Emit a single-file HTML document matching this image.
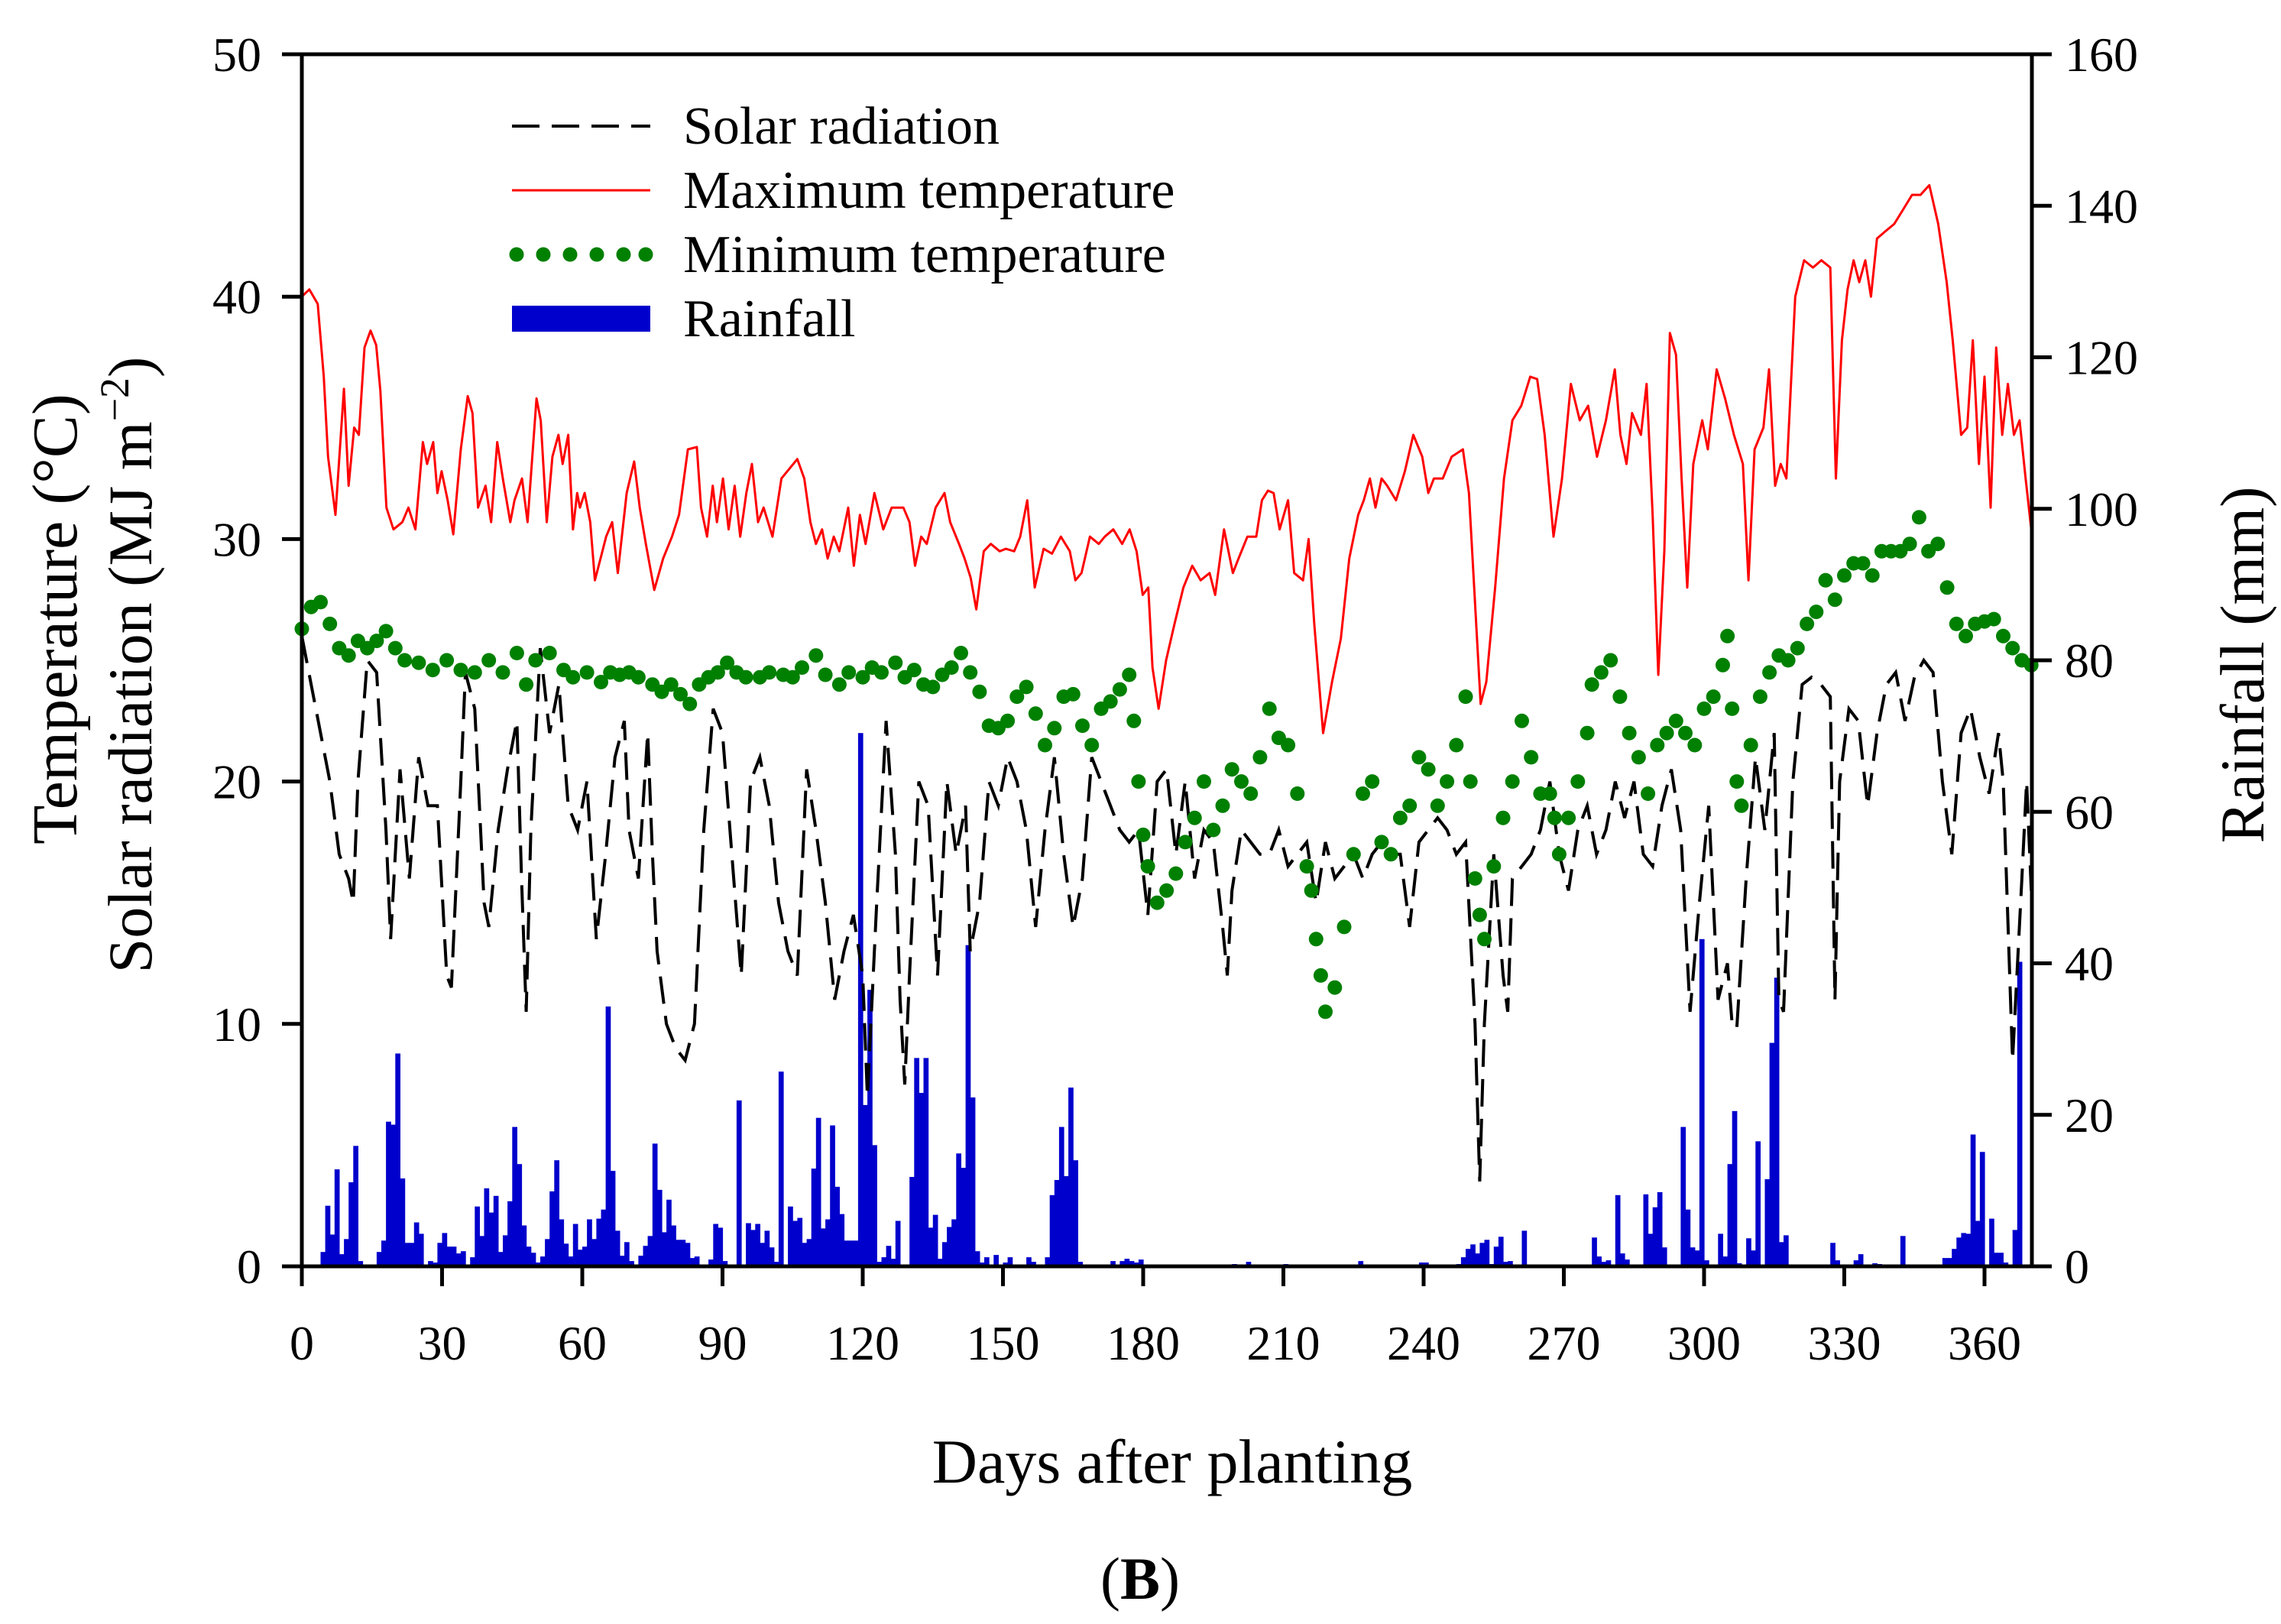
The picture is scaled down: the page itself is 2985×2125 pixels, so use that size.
<!DOCTYPE html>
<html><head><meta charset="utf-8">
<style>
html,body{margin:0;padding:0;background:#fff;}
svg{display:block;}
text{font-family:"Liberation Serif",serif;fill:#000;}
</style></head>
<body>
<svg id="chart" width="2985" height="2125" viewBox="0 0 2985 2125" xmlns="http://www.w3.org/2000/svg">
<g id="rain-layer"></g>
<g id="solar-layer"></g>
<g id="max-layer"></g>
<g id="min-layer"></g>
<g id="axes-layer"></g>
<g>
 <line x1="670" y1="165" x2="851" y2="165" stroke="#000" stroke-width="4" stroke-dasharray="36,16"/>
 <text x="894" y="188" font-size="70">Solar radiation</text>
 <line x1="670" y1="249" x2="851" y2="249" stroke="#ff0000" stroke-width="3"/>
 <text x="894" y="272" font-size="70">Maximum temperature</text>
 <g fill="#008000">
  <circle cx="676" cy="333" r="9.5"/><circle cx="711" cy="333" r="9.5"/><circle cx="746" cy="333" r="9.5"/><circle cx="781" cy="333" r="9.5"/><circle cx="816" cy="333" r="9.5"/><circle cx="845" cy="333" r="9.5"/>
 </g>
 <text x="894" y="356" font-size="70">Minimum temperature</text>
 <rect x="670" y="400" width="181" height="34" fill="#0000cc"/>
 <text x="894" y="440" font-size="70">Rainfall</text>
</g>
<text transform="translate(100,810) rotate(-90)" text-anchor="middle" font-size="84">Temperature (°C)</text>
<text transform="translate(198,870) rotate(-90)" text-anchor="middle" font-size="82">Solar radiation (MJ m<tspan baseline-shift="super" font-size="54">−2</tspan>)</text>
<text transform="translate(2962,870) rotate(-90)" text-anchor="middle" font-size="82">Rainfall (mm)</text>
<text x="1534" y="1940" text-anchor="middle" font-size="82">Days after planting</text>
<text x="1492" y="2092" text-anchor="middle" font-size="78">(<tspan font-weight="bold">B</tspan>)</text>
</svg>
<script>
const maxDays=[0,1.6,3.4,4.7,5.6,7.2,9.0,10.0,11.2,12.2,13.4,14.7,15.9,16.8,18.1,19.6,21.5,22.8,24.3,25.9,26.8,28.1,29.0,29.9,31.2,32.4,34.0,35.5,36.5,37.7,39.3,40.5,41.8,43.0,44.6,45.5,47.1,48.3,50.2,51.1,52.4,53.6,54.9,55.8,57.0,58.0,58.9,59.5,60.5,61.7,62.7,63.9,65.1,66.4,67.6,69.5,71.1,72.3,73.6,75.4,77.3,79.2,80.7,82.6,84.5,85.4,86.7,87.9,88.8,90.1,91.3,92.6,93.8,95.1,96.3,97.6,98.8,100.7,102.6,106.0,107.5,108.8,110.0,111.3,112.5,113.8,115.0,116.9,118.1,119.4,120.6,122.5,124.4,126.2,128.7,130.0,131.2,132.5,133.7,135.6,137.5,138.7,140.6,141.8,143.1,144.3,145.9,147.4,149.3,150.6,152.4,153.7,155.2,156.8,158.7,160.5,162.4,164.3,165.5,166.8,168.6,170.5,171.8,173.6,175.5,177.1,178.6,179.9,181.1,182.0,183.3,184.9,186.7,188.6,190.5,192.3,194.2,195.4,197.3,199.2,200.4,202.3,204.2,205.4,206.7,207.9,209.2,211.0,212.3,214.2,215.4,216.6,218.5,220.4,222.3,224.1,226.0,227.2,228.5,229.7,231.0,232.2,234.1,236.0,237.8,239.7,241.0,242.2,244.1,246.0,248.4,249.7,250.9,252.2,253.4,255.3,257.2,259.0,260.9,262.8,264.3,265.9,267.8,269.6,271.5,273.4,275.2,277.1,279.0,280.9,282.1,283.4,284.6,286.5,287.7,289.0,290.2,291.5,292.7,294.0,295.2,296.4,297.7,299.6,300.8,302.7,304.5,306.4,308.3,309.5,310.8,312.7,313.9,315.2,316.4,317.6,319.5,321.4,323.3,325.1,327.0,328.2,329.5,330.7,332.0,333.2,334.5,335.7,337.0,338.8,340.7,342.6,344.5,346.3,348.2,350.1,351.9,353.2,355.0,356.3,357.5,358.8,360.0,361.3,362.5,363.8,365.0,366.3,367.5,368.8,370.0];
const maxTemp=[40.0,40.3,39.7,36.7,33.4,31.0,36.2,32.2,34.6,34.3,37.9,38.6,38.0,36.1,31.3,30.4,30.7,31.3,30.4,34.0,33.1,34.0,31.9,32.8,31.6,30.2,33.7,35.9,35.2,31.3,32.2,30.7,34.0,32.5,30.7,31.6,32.5,30.7,35.8,34.9,30.7,33.4,34.3,33.1,34.3,30.4,31.9,31.3,31.9,30.7,28.3,29.2,30.1,30.7,28.6,31.9,33.2,31.3,29.8,27.9,29.2,30.1,31.0,33.7,33.8,31.3,30.1,32.2,30.7,32.5,30.4,32.2,30.1,31.9,33.1,30.7,31.3,30.1,32.5,33.3,32.5,30.7,29.8,30.4,29.2,30.1,29.5,31.3,28.9,31.0,29.8,31.9,30.4,31.3,31.3,30.7,28.9,30.1,29.8,31.3,31.9,30.7,29.8,29.2,28.4,27.1,29.5,29.8,29.5,29.6,29.5,30.1,31.6,28.0,29.6,29.4,30.1,29.5,28.3,28.6,30.1,29.8,30.1,30.4,29.8,30.4,29.5,27.7,28.0,24.7,23.0,25.0,26.5,28.0,28.9,28.3,28.6,27.7,30.4,28.6,29.2,30.1,30.1,31.6,32.0,31.9,30.4,31.6,28.6,28.3,30.0,26.5,22.0,24.1,25.9,29.2,31.0,31.6,32.5,31.3,32.5,32.2,31.6,32.8,34.3,33.4,31.9,32.5,32.5,33.4,33.7,31.9,27.7,23.2,24.1,28.0,32.5,34.9,35.5,36.7,36.6,34.3,30.1,32.5,36.4,34.9,35.5,33.4,34.9,37.0,34.3,33.1,35.2,34.3,36.4,31.0,24.4,29.5,38.5,37.6,32.5,28.0,33.1,34.9,33.7,37.0,35.8,34.3,33.1,28.3,33.7,34.6,37.0,32.2,33.1,32.5,40.0,41.5,41.2,41.5,41.2,32.5,38.2,40.3,41.5,40.6,41.5,40.0,42.4,42.7,43.0,43.6,44.2,44.2,44.6,43.0,40.6,38.2,34.3,34.6,38.2,33.1,36.7,31.3,37.9,34.3,36.4,34.3,34.9,32.5,30.4];
const minDays=[0,2,4,6,8,10,12,14,16,18,20,22,25,28,31,34,37,40,43,46,48,50,53,56,58,61,64,66,68,70,72,75,77,79,81,83,85,87,89,91,93,95,98,100,103,105,107,110,112,115,117,120,122,124,127,129,131,133,135,137,139,141,143,145,147,149,151,153,155,157,159,161,163,165,167,169,171,173,175,177,178,179,180,181,183,185,187,189,191,193,195,197,199,201,203,205,207,209,211,213,215,216,217,218,219,221,223,225,227,229,231,233,235,237,239,241,243,245,247,249,250,251,252,253,255,257,259,261,263,265,267,268,269,271,273,275,276,278,280,282,284,286,288,290,292,294,296,298,300,302,304,305,306,307,308,310,312,314,316,318,320,322,324,326,328,330,332,334,336,338,340,342,344,346,348,350,352,354,356,358,360,362,364,366,368,370];
const minTemp=[26.3,27.2,27.4,26.5,25.5,25.2,25.8,25.5,25.8,26.2,25.5,25.0,24.9,24.6,25.0,24.6,24.5,25.0,24.5,25.3,24.0,25.0,25.3,24.6,24.3,24.5,24.1,24.5,24.4,24.5,24.3,24.0,23.7,24.0,23.6,23.2,24.0,24.3,24.5,24.9,24.5,24.3,24.3,24.5,24.4,24.3,24.7,25.2,24.4,24.0,24.5,24.3,24.7,24.5,24.9,24.3,24.6,24.0,23.9,24.4,24.7,25.3,24.5,23.7,22.3,22.2,22.5,23.5,23.9,22.8,21.5,22.2,23.5,23.6,22.3,21.5,23.0,23.3,23.8,24.4,22.5,20.0,17.8,16.5,15.0,15.5,16.2,17.5,18.5,20.0,18.0,19.0,20.5,20.0,19.5,21.0,23.0,21.8,21.5,19.5,16.5,15.5,13.5,12.0,10.5,11.5,14.0,17.0,19.5,20.0,17.5,17.0,18.5,19.0,21.0,20.5,19.0,20.0,21.5,23.5,20.0,16.0,14.5,13.5,16.5,18.5,20.0,22.5,21.0,19.5,19.5,18.5,17.0,18.5,20.0,22.0,24.0,24.5,25.0,23.5,22.0,21.0,19.5,21.5,22.0,22.5,22.0,21.5,23.0,23.5,24.8,26.0,23.0,20.0,19.0,21.5,23.5,24.5,25.2,25.0,25.5,26.5,27.0,28.3,27.5,28.5,29.0,29.0,28.5,29.5,29.5,29.5,29.8,30.9,29.5,29.8,28.0,26.5,26.0,26.5,26.6,26.7,26.0,25.5,25.0,24.8];
const solarDays=[0,2,4,6,8,10,11,12,14,16,18,19,20,21,23,25,27,29,31,32,34,35,37,39,40,42,44,46,47,48,49,51,53,55,57,59,61,63,65,67,69,70,72,74,75,76,78,80,82,84,86,88,90,92,94,96,98,100,102,104,106,108,110,112,114,116,118,120,121,123,125,127,128,129,130,132,134,136,138,140,142,143,145,147,149,151,153,155,157,159,161,163,165,167,169,171,173,175,177,179,181,183,185,187,189,191,193,195,197,198,199,201,203,205,207,209,211,213,215,217,219,221,223,225,227,229,231,233,235,237,239,241,243,245,247,249,251,252,253,255,257,258,259,261,263,265,267,269,271,273,275,277,279,281,283,285,287,289,291,293,295,297,299,301,303,305,306,307,309,311,313,315,316,317,319,321,323,325,327,328,329,331,333,335,337,339,341,343,345,347,349,351,353,355,357,359,361,363,364,366,368,369,370];
const solarVals=[26,24,22,20,17,16,15,20,25,24.5,18,13.5,17,20.5,16,21,19,19,12,11.5,20,24.5,23,15,14,18,20.5,22.5,16,10.5,18,25.5,22,24,19,18,20,13.5,17,21,22.5,18,16,22,17,13,10,9,8.5,10,18,23,22,17,12,20,21,19,15,13,12,20.5,18,15,11,13,14.5,12,7,15,22.5,17,11,7.5,12,20,19,12,20,17,19,13,15,20,19,21,20,18,14,18,21,17,14,16,21,20,19,18,17.5,18,14.5,20,20.5,17,20,16,18,17.5,14,12,15.5,18,17.5,17,17,18,16.5,17,17.5,15,17.5,16,16.5,17,16,17,17.5,17,17,14,17.5,18,18.5,18,17,17.5,10,3.5,10,17,12,10.5,16,16.5,17,18,20,17,15.5,18,19,17,18,20,18.5,20,17,16.5,19,20.5,18,10.5,15,19,11,12.5,10,9.8,16,21,18,22,11,10.5,20,24,24.3,24,23.5,11,20,23,22.5,19,22,24,24.5,22.5,24.3,25,24.5,20,17,22,23,21,19.5,22,20,8.5,16,20,15.5];
const rainDays=[4,5,6,7,8,9,10,11,12,16,17,18,19,20,21,22,23,24,25,27,28,29,30,31,32,33,34,36,37,38,39,40,41,42,43,44,45,46,47,48,49,50,51,52,53,54,55,56,57,58,59,60,61,62,63,64,65,66,67,68,69,70,72,73,74,75,76,77,78,79,80,81,82,83,84,87,88,89,90,93,95,96,97,98,99,100,101,102,104,105,106,107,108,109,110,111,112,113,114,115,116,117,118,119,120,121,122,123,124,125,126,127,130,131,132,133,134,135,136,137,138,139,140,141,142,143,144,145,146,148,150,151,155,156,159,160,161,162,163,164,165,166,173,175,176,177,178,179,199,202,210,226,239,240,247,248,249,250,251,252,253,254,255,256,257,258,261,276,277,278,279,281,282,283,287,288,289,290,291,295,296,297,298,299,300,303,304,305,306,307,309,310,311,313,314,315,316,317,327,328,332,333,336,337,342,351,352,353,354,355,356,357,358,359,361,362,363,364,366,367,368];
const rainVals=[1.9,8.0,4.2,12.8,1.6,3.6,11.1,15.9,0.7,1.9,3.4,19.1,18.7,28.1,11.6,3.1,3.1,5.8,4.3,0.7,0.5,3.1,4.4,2.6,2.6,1.7,2.0,1.2,7.9,4.0,10.3,7.1,9.3,1.9,4.1,8.6,18.4,13.5,5.4,2.6,1.8,0.5,1.3,3.6,9.9,14.0,6.2,3.0,1.3,5.6,2.2,2.6,6.2,3.6,6.3,7.5,34.3,12.6,4.7,1.4,3.2,0.7,1.4,2.7,4.0,16.2,10.1,4.5,8.8,5.4,3.5,3.5,3.1,1.1,1.3,0.9,5.6,5.1,0.7,21.9,5.7,4.8,5.6,3.1,4.7,2.5,0.6,25.7,7.9,6.0,6.4,3.1,3.6,12.9,19.6,5.0,6.2,18.6,10.5,6.9,3.4,3.4,3.4,70.4,21.3,36.5,16.0,0.6,1.2,2.7,1.0,6.0,11.8,27.5,22.9,27.5,5.1,6.8,1.0,3.2,5.2,6.2,14.9,13.0,42.4,22.3,2.0,0.5,1.2,1.5,0.5,1.2,1.2,0.6,1.2,9.4,11.4,18.4,11.9,23.6,14.0,0.6,0.7,0.7,1.0,0.7,0.5,0.9,0.3,0.6,0.3,0.7,0.5,0.5,0.3,1.2,2.3,2.9,1.7,3.1,3.5,0.3,2.6,3.9,0.6,0.7,4.7,3.8,1.3,0.6,0.8,9.4,1.7,0.9,9.5,4.3,7.8,9.8,2.5,18.4,7.5,2.5,2.1,43.2,0.8,4.3,1.3,13.5,20.5,0.4,3.7,2.1,16.5,11.5,29.5,38.1,3.2,4.1,3.1,0.8,0.8,1.6,0.4,0.3,4.0,1.1,1.1,2.3,3.8,4.4,4.3,17.4,6.0,15.1,6.3,1.8,1.8,0.5,4.8,40.2];
const xTicks=[0,30,60,90,120,150,180,210,240,270,300,330,360];
const yTicks=[0,10,20,30,40,50];
const y2Ticks=[0,20,40,60,80,100,120,140,160];

const NS='http://www.w3.org/2000/svg';
const L=395,R=2659,T=71,B=1657;
const xS=d=>L+d*(2597-L)/360;
const yS=v=>B-v*(B-T)/50;
const y2S=v=>B-v*(B-T)/160;
function mk(tag,attrs,parent){const e=document.createElementNS(NS,tag);for(const k in attrs)e.setAttribute(k,attrs[k]);parent.appendChild(e);return e;}

const rainG=document.getElementById('rain-layer');
for(let i=0;i<rainDays.length;i++){
  const x0=xS(rainDays[i]),x1=xS(rainDays[i]+1),y=y2S(rainVals[i]);
  const r=mk('rect',{x:x0.toFixed(1),y:y.toFixed(1),width:(x1-x0+0.6).toFixed(1),height:(B-y).toFixed(1),fill:'#0000cc'},rainG);
  
  
}
const solarG=document.getElementById('solar-layer');
const sp=mk('path',{d:solarDays.map((d,i)=>(i?'L':'M')+xS(d).toFixed(1)+','+yS(solarVals[i]).toFixed(1)).join(''),fill:'none',stroke:'#000','stroke-width':4,'stroke-dasharray':'36,16'},solarG);


const maxG=document.getElementById('max-layer');
const mp=mk('path',{d:maxDays.map((d,i)=>(i?'L':'M')+xS(d).toFixed(1)+','+yS(maxTemp[i]).toFixed(1)).join(''),fill:'none',stroke:'#ff0000','stroke-width':3,'stroke-linejoin':'round'},maxG);


const minG=document.getElementById('min-layer');
for(let i=0;i<minDays.length;i++){
  const c=mk('circle',{cx:xS(minDays[i]).toFixed(1),cy:yS(minTemp[i]).toFixed(1),r:9.5,fill:'#008000'},minG);
  
  
}
const ax=document.getElementById('axes-layer');
const frame=mk('rect',{x:L,y:T,width:R-L,height:B-T,fill:'none',stroke:'#000','stroke-width':5},ax);


xTicks.forEach(t=>{
  const x=xS(t);
  const tk=mk('line',{x1:x,y1:B,x2:x,y2:B+26,stroke:'#000','stroke-width':5},ax);
  
  
  const lb=mk('text',{x:x,y:B+122,'text-anchor':'middle','font-size':64},ax);
  lb.textContent=t;
  
  
});
yTicks.forEach(t=>{
  const y=yS(t);
  const tk=mk('line',{x1:L-26,y1:y,x2:L,y2:y,stroke:'#000','stroke-width':5},ax);
  
  
  const lb=mk('text',{x:342,y:y+22,'text-anchor':'end','font-size':64},ax);
  lb.textContent=t;
  
  
});
y2Ticks.forEach(t=>{
  const y=y2S(t);
  const tk=mk('line',{x1:R,y1:y,x2:R+26,y2:y,stroke:'#000','stroke-width':5},ax);
  
  
  const lb=mk('text',{x:2702,y:y+22,'text-anchor':'start','font-size':64},ax);
  lb.textContent=t;
  
  
});
</script>
</body></html>
